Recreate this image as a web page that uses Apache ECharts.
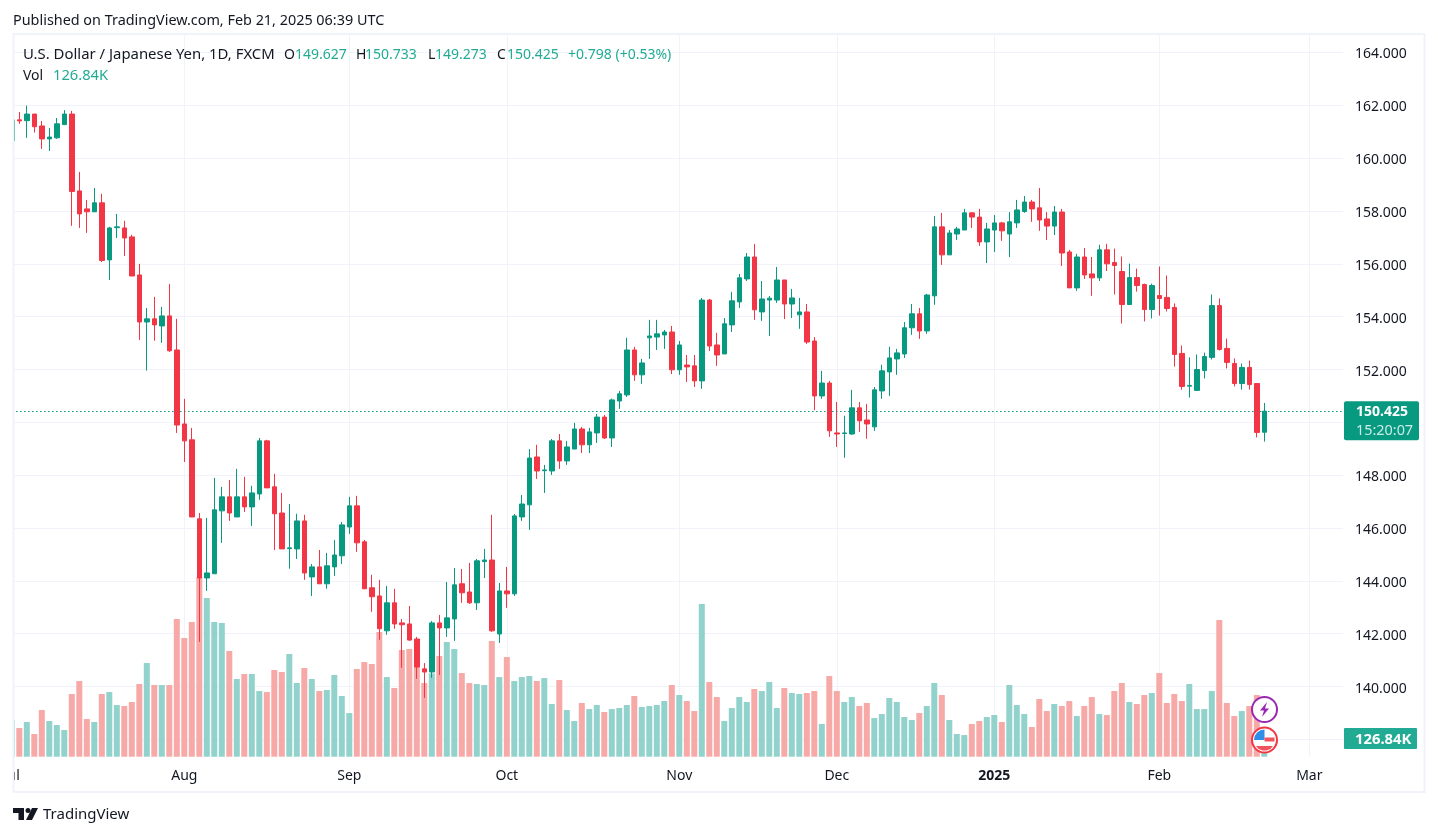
<!DOCTYPE html>
<html>
<head>
<meta charset="utf-8">
<style>html,body{margin:0;padding:0;background:#fff}#c{width:1438px;height:836px}</style>
<script src="https://cdn.jsdelivr.net/npm/echarts@6/dist/echarts.min.js"></script>
</head>
<body>
<div id="c"></div>
<script>
const opens = [160.66,161.45,161.42,161.67,161.22,160.73,160.77,161.27,161.67,158.76,158.08,157.97,158.31,156.15,157.37,157.36,157.02,155.58,153.80,153.92,
153.65,154.03,152.74,149.94,149.34,146.35,144.11,144.27,146.65,147.18,146.42,147.18,146.80,147.29,149.30,147.56,146.57,145.22,145.21,146.27,
144.15,144.53,143.89,144.53,144.95,146.04,146.84,145.48,143.74,143.43,142.11,143.17,142.41,142.37,141.80,140.67,140.55,142.41,142.22,142.56,
143.89,143.58,143.17,144.73,144.79,141.99,143.62,143.51,146.42,146.88,148.69,148.17,148.16,149.30,148.54,148.99,149.75,149.15,149.60,150.20,
149.41,150.81,151.04,152.74,151.80,153.20,153.23,153.31,153.42,151.99,152.17,152.14,151.57,154.63,152.93,152.59,153.69,154.56,155.43,156.26,
154.18,154.63,154.63,155.39,154.48,154.07,154.18,153.08,151.00,151.49,149.60,149.58,149.56,150.55,150.09,149.83,151.19,151.91,152.40,152.59,
153.58,154.11,153.46,154.79,157.40,156.34,157.13,157.28,157.93,157.77,156.83,157.28,157.55,157.13,157.55,157.98,158.34,158.12,157.70,157.43,
157.96,156.45,155.09,156.26,155.62,155.47,156.53,156.05,155.71,154.46,155.48,155.22,154.27,154.80,154.73,154.35,152.61,151.37,151.21,151.96,
152.46,154.42,152.80,152.23,151.47,152.08,151.47,149.627];
const closes = [161.45,161.41,161.67,161.19,160.73,160.80,161.30,161.67,158.74,157.89,157.97,158.31,156.13,157.36,157.40,156.98,155.54,153.80,153.92,153.69,
154.03,152.71,149.90,149.30,146.42,144.11,144.30,146.69,147.18,146.57,147.18,146.80,147.33,149.30,147.52,146.54,145.21,145.25,146.27,144.30,
144.53,143.89,144.57,144.98,146.12,146.84,145.44,143.70,143.40,142.19,143.17,142.37,142.34,141.76,140.74,140.55,142.41,142.22,142.60,143.85,
143.55,143.17,144.76,144.79,142.11,143.62,143.51,146.46,146.91,148.65,148.16,148.20,149.30,148.54,149.07,149.75,149.15,149.64,150.20,149.41,
150.85,151.08,152.74,151.80,152.25,153.27,153.35,153.42,151.99,152.93,152.10,151.57,154.63,152.89,152.55,153.73,154.60,155.47,156.26,154.26,
154.67,154.70,155.39,154.48,154.71,154.18,153.04,151.00,151.49,149.68,149.56,149.60,150.55,150.06,149.94,151.23,151.95,152.44,152.63,153.58,
154.11,153.46,154.82,157.40,156.34,157.17,157.32,157.93,157.77,156.83,157.32,157.55,157.25,157.59,158.04,158.34,158.08,157.66,157.43,157.96,
156.41,155.09,156.26,155.58,155.47,156.53,156.00,155.94,154.46,155.48,155.18,154.27,155.18,154.69,154.31,152.57,151.36,151.40,152.00,152.49,
154.42,152.76,152.27,151.47,152.08,151.43,149.62,150.425];
const highs = [161.50,161.75,161.99,161.67,161.41,161.14,161.52,161.82,161.79,159.48,158.42,158.87,158.65,157.40,157.89,157.63,157.10,156.00,154.33,154.75,
154.37,155.24,153.92,150.89,149.79,146.57,146.38,147.90,147.56,147.82,148.24,147.94,147.60,149.41,149.34,148.05,147.33,146.91,146.54,146.50,
144.64,145.17,145.06,145.55,146.23,147.18,147.22,145.55,144.23,144.04,143.81,143.70,142.56,143.05,141.88,140.89,142.48,142.71,143.96,144.49,
144.45,144.68,144.83,145.21,146.50,143.92,144.53,146.53,147.25,148.99,149.15,148.39,149.37,149.56,149.30,149.98,149.83,149.79,150.32,150.28,
150.90,151.19,153.20,152.86,152.40,153.88,153.88,153.50,153.65,153.08,152.55,152.55,154.71,154.67,153.39,153.95,154.94,155.62,156.41,156.75,
155.35,154.78,155.88,155.39,155.05,154.71,154.48,153.23,151.95,151.57,150.77,150.25,151.23,150.77,150.70,151.34,152.18,152.86,152.78,153.80,
154.48,154.33,154.86,157.81,157.93,157.28,157.40,158.08,157.96,158.08,157.55,157.85,157.59,157.96,158.42,158.57,158.42,158.87,157.96,158.19,
158.08,156.53,156.38,156.60,156.26,156.72,156.76,156.58,156.28,156.01,155.82,155.25,155.25,155.90,155.56,154.50,152.91,152.46,152.57,152.64,
154.84,154.69,153.17,152.42,152.23,152.34,151.47,150.733];
const lows = [160.60,161.30,160.77,160.97,160.35,160.27,160.73,161.27,157.44,157.36,157.17,157.97,156.07,155.39,156.98,156.30,155.54,153.12,151.96,153.09,
153.01,152.67,149.60,148.50,146.42,141.69,143.62,144.27,145.44,146.27,146.42,146.61,146.08,147.07,147.52,145.17,145.21,144.46,144.83,144.04,
143.43,143.89,143.70,144.19,144.64,145.78,145.10,143.70,142.83,141.77,141.96,142.19,140.71,141.73,140.29,139.57,140.33,140.44,141.88,141.73,
143.17,143.13,142.90,144.11,142.07,141.65,142.98,143.43,146.27,145.93,147.86,147.33,148.01,148.24,148.39,148.99,148.84,148.84,149.22,149.37,
149.07,150.51,150.96,151.57,151.46,152.40,152.74,152.78,151.83,151.80,151.53,151.34,151.27,152.70,152.14,152.59,153.42,154.33,155.35,153.88,
153.84,153.27,154.52,153.91,153.95,153.54,152.97,150.47,150.89,149.45,149.07,148.66,149.53,149.64,149.38,149.68,150.89,151.00,151.80,152.44,
153.31,153.16,153.35,154.45,155.96,156.34,156.90,157.28,157.36,156.68,156.03,156.45,156.87,156.26,157.36,157.93,157.59,157.25,156.90,157.09,
155.92,155.09,154.98,155.43,154.79,155.35,155.73,154.84,153.74,154.46,154.95,153.82,153.93,154.04,154.20,152.11,151.24,150.94,151.21,151.66,
152.38,152.72,152.04,151.36,151.24,151.24,149.43,149.273];
const volumes = [263.2,205.8,248.9,162.7,335.0,256.1,227.3,191.4,449.9,543.2,270.4,248.9,449.9,464.2,370.9,363.7,392.5,521.7,672.4,514.5,
514.5,514.5,988.3,851.9,966.8,1289.8,1139.1,966.8,959.6,758.6,557.6,593.5,593.5,471.4,464.2,622.2,607.8,737.0,528.9,636.5,
557.6,471.4,478.6,586.3,435.5,313.5,629.4,679.6,665.3,895.0,571.9,493.0,765.8,772.9,646.1,528.9,598.3,722.7,823.2,772.9,
600.6,528.9,521.7,514.5,830.4,571.9,715.5,543.2,571.9,579.1,543.2,564.7,378.1,550.4,335.0,256.1,385.3,342.2,370.9,320.7,
342.2,349.4,370.9,435.5,356.6,363.7,370.9,399.6,514.5,442.7,399.6,327.8,1096.0,536.0,428.3,256.1,349.4,428.3,392.5,485.8,
471.4,536.0,349.4,493.0,457.1,449.9,457.1,471.4,234.5,579.1,471.4,392.5,428.3,363.7,385.3,277.6,306.3,421.2,392.5,284.8,
263.2,313.5,363.7,528.9,442.7,263.2,162.7,155.5,234.5,256.1,284.8,299.1,248.9,514.5,370.9,306.3,213.0,414.0,327.8,378.1,
363.7,399.6,291.9,363.7,428.3,306.3,299.1,471.4,528.9,392.5,378.1,442.7,457.1,600.6,385.3,449.9,399.6,521.7,342.2,342.2,
471.4,981.1,385.3,291.9,327.8,363.7,442.7,126.84];
const priceTicks = [138,140,142,144,146,148,150,152,154,156,158,160,162,164];
const tickDates = ['2024-07-01','2024-08-01','2024-09-02','2024-10-01','2024-11-01','2024-12-02','2025-01-02','2025-02-03','2025-03-03'];
const tickLabels = ['Jul','Aug','Sep','Oct','Nov','Dec','2025','Feb','Mar'];
const holidays = ['2024-12-25','2025-01-01'];

const categories = [];
for (let t = Date.UTC(2024,6,1); categories.length < 178; t += 86400000) {
  const d = new Date(t), s = d.toISOString().slice(0,10), w = d.getUTCDay();
  if (w !== 0 && w !== 6 && !holidays.includes(s)) categories.push(s);
}

const UP = '#089981', DOWN = '#f23645', FONT = '"Noto Sans", sans-serif', INK = '#131722', NUM = '#22ab94', FRAME = '#f0f3fa';
const candles = opens.map((o,i) => [o, closes[i], lows[i], highs[i]]);
const volBars = volumes.map((v,i) => ({value: v, itemStyle: {color: closes[i] >= opens[i] ? '#92d2cc' : '#f7a9a7'}}));

const txt = (x, y, s, color, extra) => ({type:'text', x, y, z:120, silent:true,
  style: Object.assign({text:s, fill:color, font:'14px '+FONT, textVerticalAlign:'middle', textAlign:'left'}, extra||{})});
const fmtK = v => v.toFixed(2) + 'K';
const last = closes.length - 1;

const chart = echarts.init(document.getElementById('c'), null, {renderer:'canvas'});
const gridX = {left:8.05, width:1335};

function statics(pY, vY) {
  const ix = 1264.5;
  return [
    {type:'rect', z:100, silent:true, shape:{x:0,y:30,width:13,height:766}, style:{fill:'#fff'}},
    {type:'rect', z:101, silent:true, shape:{x:13.5,y:34,width:1411,height:758}, style:{fill:'none',stroke:FRAME,lineWidth:2}},
    txt(13,21,'Published on TradingView.com, Feb 21, 2025 06:39 UTC',INK,{font:'14.4px '+FONT}),
    txt(23,55,'U.S. Dollar / Japanese Yen, 1D, FXCM',INK,{font:'14.9px '+FONT}),
    txt(284,55,'O',INK), txt(295,55,opens[last].toFixed(3),NUM),
    txt(356,55,'H',INK), txt(365,55,highs[last].toFixed(3),NUM),
    txt(428,55,'L',INK), txt(435,55,lows[last].toFixed(3),NUM),
    txt(497,55,'C',INK), txt(507,55,closes[last].toFixed(3),NUM),
    txt(568,55,'+0.798 (+0.53%)',NUM),
    txt(23,76,'Vol',INK), txt(53,76,fmtK(volumes[last]),NUM,{font:'14.7px '+FONT}),
    {type:'rect', z:110, silent:true, shape:{x:1344,y:pY-10,width:75,height:39,r:2}, style:{fill:UP}},
    txt(1356,pY+1,closes[last].toFixed(3),'#ffffff',{font:'bold 14px '+FONT}),
    txt(1356,pY+20,'15:20:07','#c8ece5',{font:'14.4px '+FONT}),
    {type:'rect', z:110, silent:true, shape:{x:1344,y:vY-11,width:73,height:21,r:1}, style:{fill:NUM}},
    txt(1355,vY+1,fmtK(volumes[last]),'#ffffff',{font:'bold 14.8px '+FONT}),
    {type:'circle', z:115, silent:true, shape:{cx:ix,cy:709.5,r:12.5}, style:{fill:'#fff',stroke:'#9c27b0',lineWidth:2}},
    {type:'polygon', z:116, silent:true, shape:{points:[[ix+2.5,702],[ix-4.5,710.5],[ix-0.5,710.5],[ix-2.5,717],[ix+4.5,708.5],[ix+0.5,708.5]]}, style:{fill:'#9c27b0'}},
    {type:'circle', z:115, silent:true, shape:{cx:ix,cy:740,r:12.5}, style:{fill:'#fff',stroke:DOWN,lineWidth:2}},
    {type:'sector', z:116, silent:true, shape:{cx:ix,cy:740,r:10.5,r0:0,startAngle:Math.PI,endAngle:Math.PI*1.5}, style:{fill:'#2f8fe8'}},
    {type:'rect', z:116, silent:true, shape:{x:ix,y:737.5,width:10,height:4}, style:{fill:'#f2545f'}},
    {type:'polygon', z:116, silent:true, shape:{points:[[ix-8.5,746],[ix+8.5,746],[ix+6,749],[ix+2,750.5],[ix-2,750.5],[ix-6,749]]}, style:{fill:'#f2545f'}},
    {type:'polygon', z:120, silent:true, shape:{points:[[13,808],[24,808],[24,820],[18.5,820],[18.5,813],[13,813]]}, style:{fill:INK}},
    {type:'circle', z:120, silent:true, shape:{cx:28,cy:810.5,r:2.5}, style:{fill:INK}},
    {type:'polygon', z:120, silent:true, shape:{points:[[32,808],[38,808],[32,820],[26,820]]}, style:{fill:INK}},
    txt(43,815,'TradingView',INK,{font:'15px '+FONT})
  ];
}

chart.setOption({
  animation:false,
  backgroundColor:'#fff',
  textStyle:{fontFamily:FONT},
  grid:[
    Object.assign({top:52.5, height:686.9}, gridX),
    Object.assign({top:34, height:722.7}, gridX)
  ],
  xAxis:[
    {type:'category', gridIndex:0, data:categories, show:false, boundaryGap:true},
    {type:'category', gridIndex:1, data:categories, boundaryGap:true,
     axisLine:{show:false}, axisTick:{show:false}, splitLine:{show:false},
     axisLabel:{show:true, hideOverlap:false, margin:12, fontSize:14, color:INK, fontFamily:FONT,
       interval:(i,v)=>tickDates.includes(v),
       formatter:v=>{const l=tickLabels[tickDates.indexOf(v)]; return l==='2025' ? '{b|2025}' : l;},
       rich:{b:{fontWeight:'bold',fontSize:14,color:INK,fontFamily:FONT}}}}
  ],
  yAxis:[
    {type:'value', gridIndex:0, position:'right', min:priceTicks[0], max:priceTicks[priceTicks.length-1], interval:2, scale:true,
     axisLine:{show:false}, axisTick:{show:false},
     splitLine:{show:true, lineStyle:{color:FRAME,width:1}},
     axisLabel:{margin:12, fontSize:14, color:INK, fontFamily:FONT, verticalAlign:'middle', formatter:v=>'{p|'+v.toFixed(3)+'}',
       rich:{p:{fontSize:14, color:INK, fontFamily:FONT, padding:[4,0,0,0]}}}},
    {type:'value', gridIndex:1, min:0, max:5188, show:false, splitLine:{show:false}}
  ],
  series:[
    {type:'bar', name:'Vol', xAxisIndex:1, yAxisIndex:1, data:volBars, barWidth:6, z:2, silent:true, clip:false,
     markLine:{silent:true, symbol:'none', z:1, label:{show:false}, lineStyle:{color:FRAME,width:1,type:'solid'},
       data:tickDates.map(d=>({xAxis:d}))}},
    {type:'candlestick', name:'USDJPY', xAxisIndex:0, yAxisIndex:0, data:candles, barWidth:5, z:3, silent:true, clip:false,
     itemStyle:{color:UP,color0:DOWN,borderColor:UP,borderColor0:DOWN,borderWidth:1},
     markLine:{silent:true, symbol:'none', z:2, label:{show:false}, lineStyle:{color:UP,width:1.2,type:[1.5,2.5]},
       data:[{yAxis:closes[last]}]}}
  ],
  graphic:{elements:[]}
});
const pY = chart.convertToPixel({yAxisIndex:0}, closes[last]);
const vY = chart.convertToPixel({yAxisIndex:1}, volumes[last]);
chart.setOption({graphic:{elements:statics(pY, vY)}});
</script>
</body>
</html>
